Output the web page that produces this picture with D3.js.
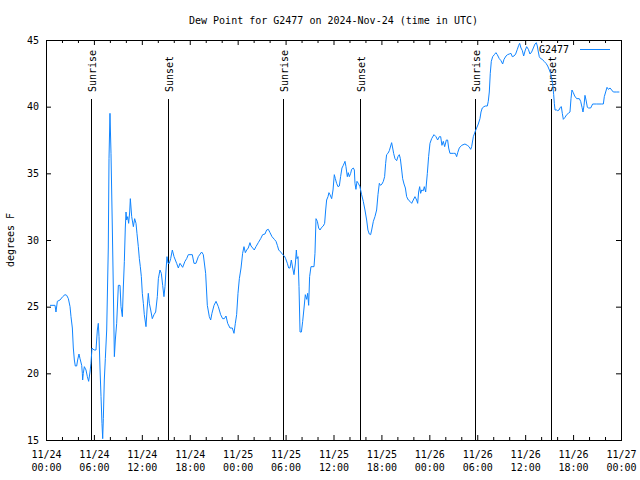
<!DOCTYPE html>
<html><head><meta charset="utf-8">
<script src="https://cdn.jsdelivr.net/npm/d3@7"></script>
<style>
body{margin:0;background:#fff}
svg{display:block}
text{font-family:"DejaVu Sans Mono",monospace;font-size:10px;fill:#000}
</style>
</head><body><svg id="c" width="640" height="480"></svg>
<script>
// ---- data (hours since 2024-11-24 00:00 UTC, dew point in °F) ----
const hours = [0.50,1.13,1.25,1.42,1.75,2.09,2.38,2.59,2.80,3.01,3.13,3.30,3.42,3.55,3.67,3.84,3.96,4.13,4.26,4.47,4.55,4.59,4.67,4.80,5.01,5.18,5.34,5.51,5.63,5.76,6.01,6.26,6.43,6.55,6.64,6.76,6.89,7.01,7.10,7.18,7.30,7.43,7.60,7.80,7.89,8.01,8.14,8.31,8.43,8.56,8.68,8.85,9.06,9.27,9.39,9.56,9.68,9.81,9.93,10.02,10.10,10.23,10.35,10.48,10.56,10.73,10.94,11.10,11.27,11.39,11.56,11.69,11.81,11.94,12.06,12.19,12.31,12.52,12.65,12.81,12.94,13.11,13.31,13.52,13.73,13.94,14.07,14.27,14.44,14.61,14.77,14.90,15.03,15.15,15.28,15.44,15.61,15.82,16.03,16.36,16.57,16.78,17.11,17.40,17.61,17.82,18.32,18.53,18.78,19.07,19.49,19.70,19.99,20.20,20.45,20.62,20.78,21.04,21.29,21.58,21.87,22.12,22.33,22.54,22.75,23.04,23.33,23.54,23.71,23.87,24.04,24.21,24.42,24.62,24.79,24.96,25.13,25.33,25.54,25.67,25.88,26.08,26.29,26.58,26.88,27.13,27.42,27.63,27.84,28.05,28.30,28.59,28.80,28.97,29.14,29.39,29.64,29.85,30.01,30.22,30.39,30.55,30.72,30.89,31.05,31.22,31.35,31.43,31.56,31.68,31.81,31.98,32.14,32.31,32.47,32.64,32.76,32.89,33.01,33.18,33.56,33.68,33.81,33.98,34.14,34.31,34.52,34.72,34.89,35.02,35.14,35.31,35.43,35.56,35.77,35.94,36.10,36.23,36.39,36.56,36.73,36.89,37.06,37.23,37.44,37.56,37.73,37.85,37.98,38.15,38.27,38.48,38.61,38.69,38.81,38.94,39.11,39.31,39.52,39.73,39.94,40.15,40.31,40.48,40.65,40.78,40.99,41.19,41.40,41.57,41.74,41.90,42.07,42.24,42.40,42.53,42.65,42.82,42.99,43.16,43.28,43.41,43.53,43.70,43.91,44.07,44.24,44.37,44.54,44.66,44.83,45.00,45.16,45.37,45.58,45.79,45.99,46.20,46.41,46.54,46.66,46.79,46.91,47.04,47.25,47.37,47.54,47.75,47.91,48.08,48.29,48.58,48.83,49.04,49.25,49.42,49.58,49.75,49.92,50.13,50.29,50.42,50.58,51.00,51.25,51.42,51.55,51.75,52.05,52.46,52.76,52.97,53.18,53.30,53.51,53.72,53.92,54.13,54.34,54.47,54.63,54.84,55.01,55.26,55.38,55.51,55.63,55.76,55.93,56.14,56.34,56.51,56.76,56.97,57.18,57.35,57.60,57.80,58.01,58.22,58.39,58.60,58.81,59.02,59.19,59.31,59.48,59.65,59.81,60.02,60.19,60.40,60.60,60.81,61.02,61.23,61.40,61.52,61.65,61.77,61.94,62.15,62.36,62.61,62.82,63.03,63.19,63.32,63.44,63.57,63.65,63.74,63.94,64.07,64.24,64.40,64.53,64.65,64.78,64.99,65.20,65.41,65.61,65.74,65.86,66.03,66.20,66.45,66.78,66.95,67.12,67.24,67.37,67.49,67.62,67.79,67.95,68.20,68.45,68.95,69.58,69.79,69.91,70.08,70.25,70.42,70.63,70.83,71.04,71.46,71.79];
const dewF = [25.1,25.1,24.6,25.4,25.5,25.75,25.9,25.85,25.6,25.0,24.25,23.4,21.9,21.0,20.55,20.55,21.0,21.45,21.1,20.6,20.0,19.5,20.0,20.5,20.25,19.75,19.4,20.1,20.75,21.9,21.75,21.75,23.25,23.75,22.75,20.4,18.25,16.25,15.1,16.6,19.5,21.1,23.25,29.4,36.1,39.5,36.5,30.75,26.4,21.25,22.5,23.75,26.6,26.6,25.0,24.25,26.4,28.4,30.9,32.1,31.5,31.75,31.25,32.1,33.1,31.75,31.0,31.6,31.25,30.5,29.5,28.6,28.0,27.25,26.0,25.25,24.4,23.5,24.75,26.0,25.25,24.75,24.1,24.4,24.6,25.75,27.1,27.75,27.5,26.6,25.75,26.5,27.75,28.75,28.25,28.25,28.6,29.25,28.75,28.25,27.9,28.25,27.95,28.4,28.6,28.9,28.9,28.25,28.25,28.75,29.1,28.9,27.5,25.1,24.25,24.0,24.5,25.1,25.4,25.0,24.4,24.1,24.1,24.3,23.75,23.4,23.4,23.0,23.75,24.4,26.0,27.1,27.9,29.0,29.5,29.05,29.25,29.4,29.8,29.55,29.4,29.25,29.5,29.8,30.1,30.4,30.45,30.75,30.8,30.55,30.25,30.05,29.9,29.6,29.25,29.1,28.9,28.8,28.6,28.25,27.9,27.9,28.5,27.9,27.4,28.2,29.25,28.6,28.75,26.5,23.1,23.1,23.9,24.9,25.9,25.55,26.0,25.1,27.25,28.0,28.0,29.0,31.6,31.4,30.9,30.75,30.95,31.05,31.25,32.25,33.0,33.25,33.55,33.4,33.1,33.75,34.9,34.6,34.25,34.0,34.05,34.75,35.4,35.6,35.9,35.5,34.75,35.05,34.75,35.0,35.3,35.4,35.25,34.25,33.8,34.4,34.25,34.0,33.4,32.9,32.25,31.5,30.75,30.45,30.4,30.75,31.4,31.75,32.25,33.4,34.25,34.1,34.2,34.4,34.75,35.75,36.4,36.5,36.7,37.05,37.3,36.9,36.5,36.1,35.95,36.25,36.4,36.1,35.25,34.6,34.2,33.9,33.25,33.0,32.9,32.75,33.0,33.25,33.0,32.75,33.6,34.0,33.5,33.75,33.7,34.0,33.6,35.0,36.25,37.25,37.6,37.9,37.75,37.5,37.75,37.75,37.1,37.4,37.0,37.5,37.5,36.9,36.5,36.5,36.5,36.25,36.55,36.9,37.1,37.2,37.1,37.0,36.8,37.0,37.75,38.1,38.4,38.7,39.1,39.6,39.9,40.0,40.05,40.05,40.4,41.1,42.5,43.4,43.75,43.9,44.05,43.9,43.6,43.45,43.2,43.55,43.8,43.9,43.95,44.0,43.75,43.8,43.95,44.3,44.6,44.75,44.4,44.2,43.8,44.25,44.5,44.3,43.95,44.1,44.4,44.7,44.8,44.55,44.1,43.75,43.6,43.55,43.4,43.25,43.05,42.75,42.5,42.1,41.75,40.9,40.25,39.75,39.75,39.7,39.75,39.95,40.0,39.5,39.05,39.2,39.4,39.5,39.6,40.6,41.25,41.05,40.8,40.6,40.6,40.4,39.95,39.6,40.1,40.85,40.5,39.95,39.9,39.9,40.2,40.2,40.2,40.2,40.75,41.1,41.45,41.3,41.4,41.25,41.1,41.1,41.1];
const sunLabels = ["Sunrise","Sunset","Sunrise","Sunset","Sunrise","Sunset"];
const sunTimes = ["2024-11-24T05:41:00Z","2024-11-24T15:17:00Z","2024-11-25T05:43:00Z","2024-11-25T15:16:00Z","2024-11-26T05:45:00Z","2024-11-26T15:16:00Z"];
const yTicks = [15,20,25,30,35,40,45];
const seriesName = "G2477";
const titleText = "Dew Point for G2477 on 2024-Nov-24 (time in UTC)";
const yLabelText = "degrees F";
const startUTC = "2024-11-24T00:00:00Z", endUTC = "2024-11-27T00:00:00Z";

// ---- layout ----
const L = 46, R = 621, T = 40, B = 440;
const lineColor = "#0f84ff";
const t0 = new Date(startUTC), t1 = new Date(endUTC);
const x = d3.scaleUtc().domain([t0, t1]).range([L, R]);
const y = d3.scaleLinear().domain([15, 45]).range([B, T]);
const svg = d3.select("#c");
svg.append("rect").attr("width",640).attr("height",480).attr("fill","#fff");

const pts = hours.map((h,i)=>({t:new Date(t0.getTime()+h*3600e3), v:dewF[i]}));

// sunrise / sunset markers
const sun = svg.append("g");
sunTimes.forEach((s,i)=>{
  const xx = Math.round(x(new Date(s))) + 0.5;
  sun.append("line").attr("x1",xx).attr("x2",xx).attr("y1",99).attr("y2",B)
     .attr("stroke","#000").attr("stroke-width",1);
  sun.append("text").attr("transform",`translate(${xx+4},92) rotate(-90)`)
     .attr("text-anchor","start").text(sunLabels[i]);
});

// data line
svg.append("defs").append("clipPath").attr("id","clip")
  .append("rect").attr("x",L).attr("y",T).attr("width",R-L).attr("height",B-T);
svg.append("path").datum(pts)
  .attr("clip-path","url(#clip)")
  .attr("fill","none").attr("stroke",lineColor).attr("stroke-width",1)
  .attr("d", d3.line().x(d=>x(d.t)).y(d=>y(d.v)));

// axes
const major = d3.utcHour.every(6).range(t0, new Date(t1.getTime()+1));
const minor = d3.utcHour.every(2).range(t0, new Date(t1.getTime()+1)).filter(d=>d.getUTCHours()%6!==0);
const fmtD = d3.utcFormat("%m/%d"), fmtH = d3.utcFormat("%H:%M");

const gb = svg.append("g").attr("transform",`translate(0,${B})`)
  .call(d3.axisBottom(x).tickValues(major).tickSizeInner(-5).tickSizeOuter(0).tickPadding(0).tickFormat(""));
gb.selectAll(".tick").each(function(d){
  const t = d3.select(this).select("text").attr("y",null).attr("dy",null);
  t.append("tspan").attr("x",0).attr("y",18).text(fmtD(d));
  t.append("tspan").attr("x",0).attr("y",31).text(fmtH(d));
});
svg.append("g").attr("transform",`translate(0,${B})`)
  .call(d3.axisBottom(x).tickValues(minor).tickSizeInner(-3).tickSizeOuter(0).tickFormat(""));
svg.append("g").attr("transform",`translate(0,${T})`)
  .call(d3.axisTop(x).tickValues(major).tickSizeInner(-5).tickSizeOuter(0).tickFormat(""));
svg.append("g").attr("transform",`translate(0,${T})`)
  .call(d3.axisTop(x).tickValues(minor).tickSizeInner(-3).tickSizeOuter(0).tickFormat(""));
const gl = svg.append("g").attr("transform",`translate(${L},0)`)
  .call(d3.axisLeft(y).tickValues(yTicks).tickSizeInner(-5).tickSizeOuter(0).tickPadding(7).tickFormat(d3.format("d")));
svg.append("g").attr("transform",`translate(${R},0)`)
  .call(d3.axisRight(y).tickValues(yTicks).tickSizeInner(-5).tickSizeOuter(0).tickFormat(""));
svg.selectAll(".domain").remove();
svg.selectAll(".tick line").attr("stroke","#000");
svg.selectAll(".tick text").attr("font-family",null).attr("font-size",null).attr("fill","#000");

// frame
svg.append("rect").attr("x",L+0.5).attr("y",T+0.5).attr("width",R-L).attr("height",B-T)
  .attr("fill","none").attr("stroke","#000").attr("stroke-width",1);

// title & labels
svg.append("text").attr("x",(L+R)/2).attr("y",24).attr("text-anchor","middle").text(titleText);
svg.append("text").attr("transform","translate(14,240) rotate(-90)").attr("text-anchor","middle").text(yLabelText);

// legend
svg.append("text").attr("x",569).attr("y",53).attr("text-anchor","end").text(seriesName);
svg.append("line").attr("x1",580).attr("x2",610).attr("y1",49.5).attr("y2",49.5)
  .attr("stroke",lineColor).attr("stroke-width",1);
</script>
</body></html>
